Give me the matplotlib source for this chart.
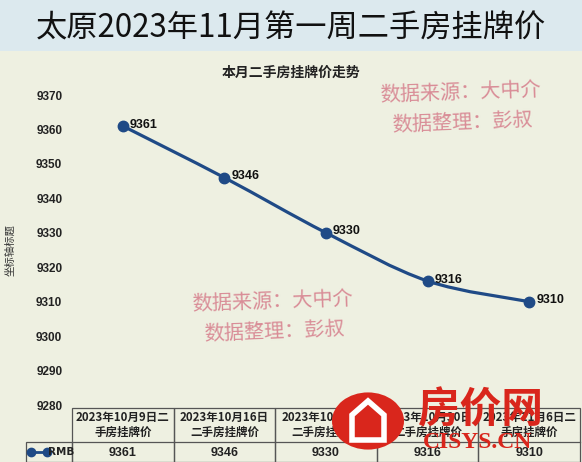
import matplotlib.pyplot as plt
from matplotlib.patches import Rectangle, Circle, Polygon, PathPatch
from matplotlib.path import Path
from matplotlib.lines import Line2D

plt.rcParams['font.family'] = ['Noto Sans CJK SC', 'DejaVu Sans']

# données
dates = ["2023年10月9日二手房挂牌价", "2023年10月16日二手房挂牌价",
         "2023年10月23日二手房挂牌价", "2023年10月30日二手房挂牌价",
         "2023年11月6日二手房挂牌价"]
# coupure des libellés comme dans Excel
date_labels = ["2023年10月9日二\n手房挂牌价", "2023年10月16日\n二手房挂牌价",
               "2023年10月23日\n二手房挂牌价", "2023年10月30日\n二手房挂牌价",
               "2023年11月6日二\n手房挂牌价"]
prix = [9361, 9346, 9330, 9316, 9310]
serie = "RMB"
yticks = [9280, 9290, 9300, 9310, 9320, 9330, 9340, 9350, 9360, 9370]

W, H = 582, 462
fond = '#eef0e1'
bleu = '#1f4a86'
rose = '#d98d97'


def fx(px):
    return px / W


def fy(py):
    return 1 - py / H


fig = plt.figure(figsize=(W / 100, H / 100), dpi=100, facecolor=fond)

# bandeau du titre
fig.patches.append(Rectangle((0, fy(51)), 1, 51 / H, transform=fig.transFigure,
                             facecolor='#dce9ee', edgecolor='none', zorder=0))
fig.text(fx(291), fy(28), "太原2023年11月第一周二手房挂牌价", fontsize=22.5,
         ha='center', va='center', color='#111111')
fig.text(fx(291), fy(73), "本月二手房挂牌价走势", fontsize=10, fontweight='bold',
         ha='center', va='center', color='#222222')

# =============================================================================
# Courbe
# =============================================================================
ax = fig.add_axes([fx(72), fy(405), (580 - 72) / W, (405 - 95) / H])
ax.set_facecolor('none')
x = list(range(len(prix)))
ax.set_xlim(-0.5, len(prix) - 0.5)
ax.set_ylim(9280, 9370)
ax.set_yticks(yticks)
ax.set_yticklabels([str(v) for v in yticks], fontsize=8.5, fontweight='bold',
                   family='Liberation Sans', color='#222222')
ax.set_xticks([])
ax.tick_params(axis='y', length=0, pad=7)
for s in ax.spines.values():
    s.set_visible(False)
ax.set_ylabel("坐标轴标题", fontsize=7.5, color='#333333')
ax.yaxis.set_label_coords((15 - 72) / 508, 0.5)

# courbe lissée (Catmull-Rom -> Bézier)
verts = [(x[0], prix[0])]
codes = [Path.MOVETO]
for i in range(len(prix) - 1):
    i0 = max(i - 1, 0)
    i2 = min(i + 2, len(prix) - 1)
    t1 = ((x[i + 1] - x[i0]) / 2, (prix[i + 1] - prix[i0]) / 2)
    t2 = ((x[i2] - x[i]) / 2, (prix[i2] - prix[i]) / 2)
    verts += [(x[i] + t1[0] / 3, prix[i] + t1[1] / 3),
              (x[i + 1] - t2[0] / 3, prix[i + 1] - t2[1] / 3),
              (x[i + 1], prix[i + 1])]
    codes += [Path.CURVE4] * 3
ax.add_patch(PathPatch(Path(verts, codes), facecolor='none', edgecolor=bleu,
                       lw=2.3, capstyle='round'))
ax.plot(x, prix, 'o', color=bleu, markersize=7.5)
for xi, yi in zip(x, prix):
    ax.annotate(str(yi), (xi, yi), xytext=(5, 1), textcoords='offset points',
                fontsize=9, fontweight='bold', family='Liberation Sans',
                ha='left', va='center', color='#111111')

# filigranes
for cx, cy in [(460, 93), (272, 302)]:
    fig.text(fx(cx), fy(cy), "数据来源：大中介", fontsize=14.5, color=rose,
             ha='center', va='center', rotation=2)
    fig.text(fx(cx + 2), fy(cy + 30), "数据整理：彭叔", fontsize=14.5, color=rose,
             ha='center', va='center', rotation=2)

# =============================================================================
# Tableau de données
# =============================================================================
col0, colw = 72, (580 - 72) / len(prix)
top, mid, bot = 408, 442, 462
ligne = dict(color='#555555', lw=0.9)
for i, (lab, v) in enumerate(zip(date_labels, prix)):
    xl = col0 + i * colw
    fig.patches.append(Rectangle((fx(xl), fy(bot)), colw / W, (bot - top) / H,
                                 transform=fig.transFigure, facecolor='none',
                                 edgecolor='#555555', lw=0.9))
    fig.lines.append(Line2D([fx(xl), fx(xl + colw)], [fy(mid), fy(mid)],
                            transform=fig.transFigure, **ligne))
    fig.text(fx(xl + colw / 2), fy((top + mid) / 2), lab, fontsize=8.3,
             fontweight='bold', ha='center', va='center', linespacing=1.15,
             color='#222222')
    fig.text(fx(xl + colw / 2), fy((mid + bot) / 2 + 1), str(v), fontsize=9,
             fontweight='bold', family='Liberation Sans', ha='center',
             va='center', color='#222222')
fig.patches.append(Rectangle((fx(26), fy(bot)), (col0 - 26) / W, (bot - mid) / H,
                             transform=fig.transFigure, facecolor='none',
                             edgecolor='#555555', lw=0.9))
fig.lines.append(Line2D([fx(31), fx(47)], [fy(452), fy(452)], color=bleu, lw=2,
                        marker='o', markersize=6, transform=fig.transFigure))
fig.text(fx(48), fy(452), serie, fontsize=7.5, fontweight='bold',
         family='Liberation Sans Narrow', ha='left', va='center', color='#222222')

# logo (recouvre une partie du tableau, comme sur l'original)
rouge = '#d9261c'
fig.patches.append(Circle((fx(368), fy(421)), 36 / W, transform=fig.transFigure,
                          facecolor=rouge, edgecolor='none', zorder=5))
fig.patches.append(Polygon([(fx(352), fy(440)), (fx(352), fy(415)),
                            (fx(368), fy(401)), (fx(384), fy(415)),
                            (fx(384), fy(440))], closed=True,
                           transform=fig.transFigure, facecolor='none',
                           edgecolor='white', lw=4, zorder=6))
fig.text(fx(480), fy(410), "房价网", fontsize=30, fontweight='bold', color=rouge,
         ha='center', va='center', zorder=7)
fig.text(fx(478), fy(443), "CISYS.CN", fontsize=17, fontweight='bold',
         family='Liberation Serif', color=rouge, ha='center', va='center',
         zorder=7)

fig.savefig('out.png', dpi=100, facecolor=fond)
